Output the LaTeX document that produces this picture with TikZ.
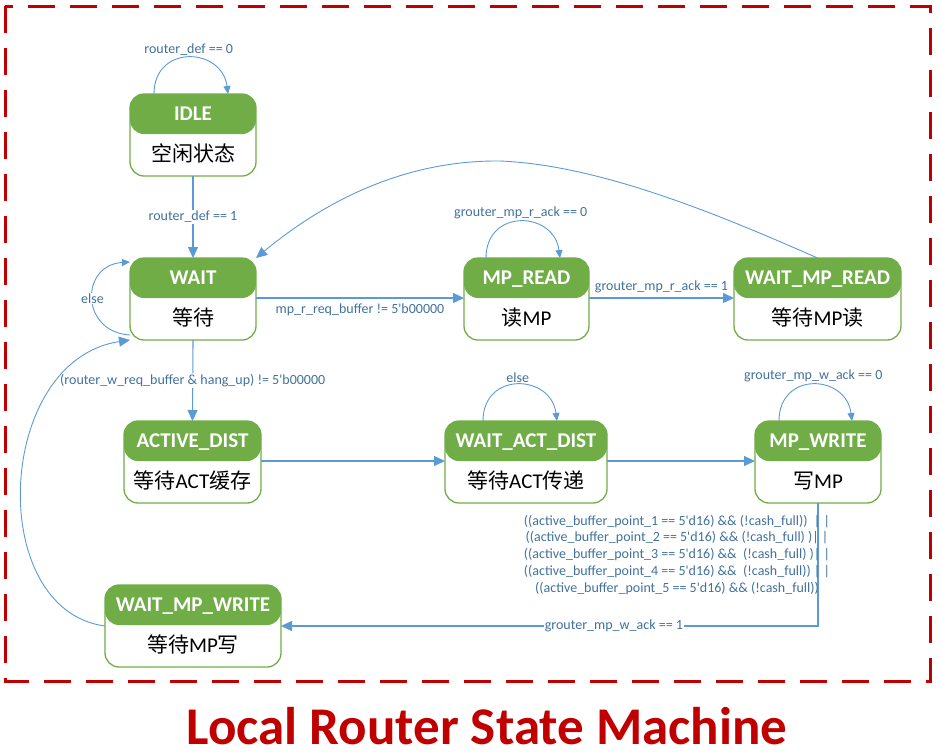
\documentclass[tikz,border=0pt]{standalone}
\usepackage{fontspec}
\setmainfont{Carlito}
\newfontfamily\cjk{Noto Sans CJK SC}
\usetikzlibrary{arrows.meta}
\definecolor{grn}{HTML}{70AD47}
\definecolor{lnblue}{HTML}{5B9BD5}
\definecolor{lbltxt}{HTML}{41719C}
\definecolor{frred}{HTML}{C00000}
\newcommand{\sq}{\textquotesingle}
\tikzset{
 fsm/.style={draw=grn, line width=1.3pt, rounded corners=14pt, minimum width=#1, minimum height=82pt, inner sep=0pt, outer sep=0pt,
   path picture={\fill[grn] ([yshift=2pt]path picture bounding box.north west) rectangle ([yshift=-40pt]path picture bounding box.north east);}},
 hdr/.style={text=white, font=\bfseries\fontsize{21}{25}\selectfont, inner sep=0pt, anchor=base},
 bdy/.style={text=black, font=\fontsize{21}{25}\selectfont, inner sep=0pt, anchor=base},
 conn/.style={draw=lnblue, line width=1.1pt, -{Triangle[length=11pt,width=10pt]}},
 curv/.style={draw=lnblue, line width=0.9pt, -{Triangle[length=11pt,width=10pt]}},
 loopc/.style={draw=lnblue, line width=0.9pt, -{Triangle[length=8pt,width=7pt]}},
 lbl/.style={text=lbltxt, font=\fontsize{14}{16.8}\selectfont, inner sep=1pt},
 onln/.style={lbl, fill=white},
 frame/.style={draw=frred, line width=3pt, dash pattern=on 27pt off 15pt},
}
\begin{document}
\begin{tikzpicture}[x=1pt,y=-1pt]
\useasboundingbox (0,0) rectangle (941,753);
\draw[frame] (5,6) rectangle (930,681);

% states
\node[fsm=126pt] (idle) at (193,135) {};
\node[fsm=126pt] (wait) at (193,299) {};
\node[fsm=125pt] (mpr) at (526.5,299) {};
\node[fsm=167pt] (wmr) at (817.5,299) {};
\node[fsm=137pt] (ad) at (192.5,462) {};
\node[fsm=162pt] (wad) at (526,462) {};
\node[fsm=126pt] (mpw) at (818,462) {};
\node[fsm=176pt] (wmw) at (193,626) {};

\node[hdr] (idle-t) at ([yshift=-26pt]idle.north) {IDLE};
\node[bdy] (idle-b) at ([yshift=15pt]idle.south) {\cjk 空闲状态};
\node[hdr] (wait-t) at ([yshift=-26pt]wait.north) {WAIT};
\node[bdy] (wait-b) at ([yshift=15pt]wait.south) {\cjk 等待};
\node[hdr] (mpr-t) at ([yshift=-26pt]mpr.north) {MP\_READ};
\node[bdy] (mpr-b) at ([yshift=15pt]mpr.south) {{\cjk 读}MP};
\node[hdr] (wmr-t) at ([yshift=-26pt]wmr.north) {WAIT\_MP\_READ};
\node[bdy] (wmr-b) at ([yshift=15pt]wmr.south) {{\cjk 等待}MP{\cjk 读}};
\node[hdr] (ad-t) at ([yshift=-26pt]ad.north) {ACTIVE\_DIST};
\node[bdy] (ad-b) at ([yshift=15pt]ad.south) {{\cjk 等待}ACT{\cjk 缓存}};
\node[hdr] (wad-t) at ([yshift=-26pt]wad.north) {WAIT\_ACT\_DIST};
\node[bdy] (wad-b) at ([yshift=15pt]wad.south) {{\cjk 等待}ACT{\cjk 传递}};
\node[hdr] (mpw-t) at ([yshift=-26pt]mpw.north) {MP\_WRITE};
\node[bdy] (mpw-b) at ([yshift=15pt]mpw.south) {{\cjk 写}MP};
\node[hdr] (wmw-t) at ([yshift=-26pt]wmw.north) {WAIT\_MP\_WRITE};
\node[bdy] (wmw-b) at ([yshift=15pt]wmw.south) {{\cjk 等待}MP{\cjk 写}};

% self loops
\draw[loopc] ([xshift=-39pt]idle.north) .. controls +(0,-50) and +(-6,-47) .. node[lbl, above=1pt]{router\_def == 0} ([xshift=35pt]idle.north);
\draw[loopc] ([xshift=-40.5pt]mpr.north) .. controls +(0,-50) and +(-6,-47) .. node[lbl, above=1pt]{grouter\_mp\_r\_ack == 0} ([xshift=33.5pt]mpr.north);
\draw[loopc] ([xshift=-43pt]wad.north) .. controls +(0,-50) and +(-6,-47) .. node[lbl, above=1pt]{else} ([xshift=31pt]wad.north);
\draw[loopc] ([xshift=-39pt]mpw.north) .. controls +(0,-50) and +(-6,-47) .. node[lbl, above=1pt]{grouter\_mp\_w\_ack == 0} ([xshift=34pt]mpw.north);
\draw[loopc] ([yshift=5pt]wait.south west) .. controls +(-50,-3) and +(-50,3) .. node[onln]{else} ([yshift=-4pt]wait.north west);

% transitions
\draw[conn] (idle.south) -- node[onln]{router\_def == 1} (wait.north);
\draw[conn] ([yshift=1pt]wait.east) -- node[lbl, below=4pt]{mp\_r\_req\_buffer != 5\sq b00000} ([yshift=1pt]mpr.west);
\draw[conn] ([yshift=1pt]mpr.east) -- node[lbl, above=4pt]{grouter\_mp\_r\_ack == 1} ([yshift=1pt]wmr.west);
\draw[curv] (wmr.north) .. controls (720,215) and (600,165) .. (500,161) .. controls (400,160) and (320,205) .. (wait.north east);
\draw[conn] (wait.south) -- node[onln]{(router\_w\_req\_buffer \& hang\_up) != 5\sq b00000} (ad.north);
\draw[conn] ([yshift=1pt]ad.east) -- ([yshift=1pt]wad.west);
\draw[conn] ([yshift=1pt]wad.east) -- ([yshift=1pt]mpw.west);
\draw[conn] (mpw.south) |- node[onln, pos=0.69]{grouter\_mp\_w\_ack == 1}
  node[lbl, pos=0.21, xshift=-141pt, align=center]{((active\_buffer\_point\_1 == 5\sq d16) \&\& (!cash\_full))\ \ | |\\
((active\_buffer\_point\_2 == 5\sq d16) \&\& (!cash\_full) )| |\\
((active\_buffer\_point\_3 == 5\sq d16) \&\&\ \ (!cash\_full) )| |\\
((active\_buffer\_point\_4 == 5\sq d16) \&\&\ \ (!cash\_full))\ | |\\
((active\_buffer\_point\_5 == 5\sq d16) \&\& (!cash\_full))}
  (wmw.east);
\draw[curv] (wmw.west) .. controls (-15,610) and (-5,360) .. (wait.south west);

\node[font=\bfseries\fontsize{53}{58}\selectfont, text=frred, anchor=base, inner sep=0pt] (title) at (487,744) {Local Router State Machine};
\end{tikzpicture}
\end{document}
